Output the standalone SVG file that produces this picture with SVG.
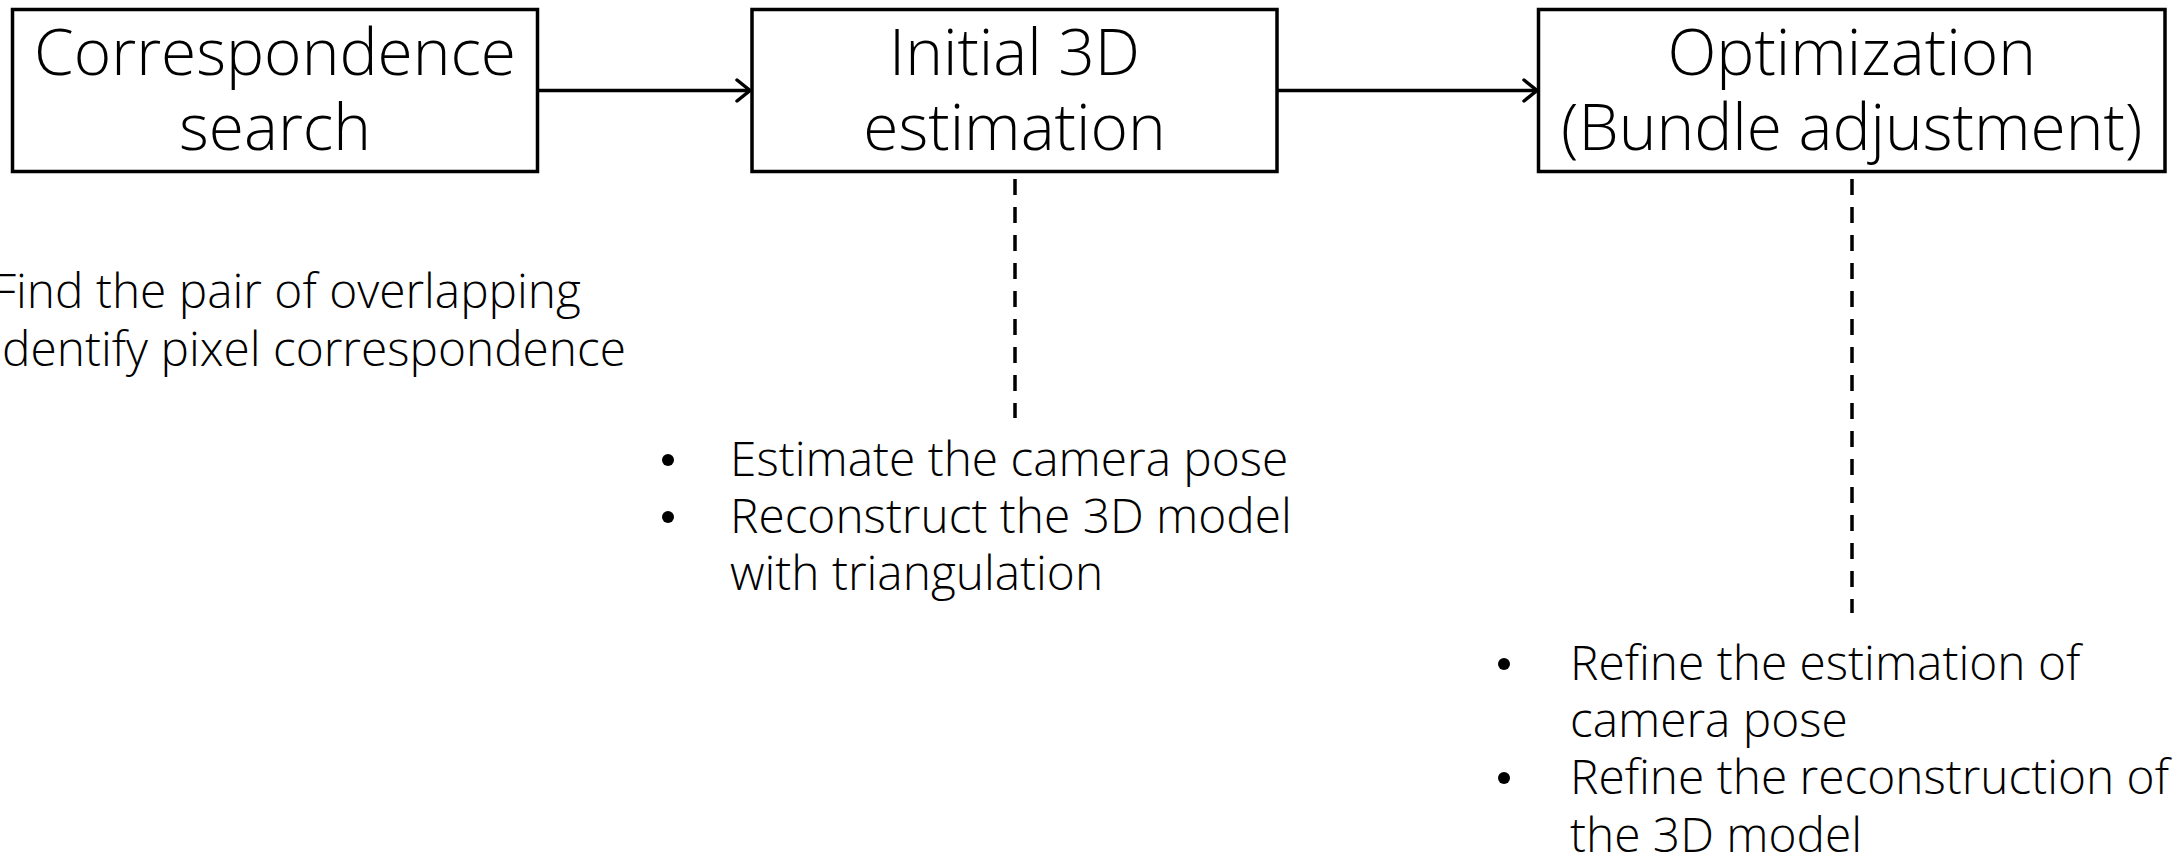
<svg xmlns="http://www.w3.org/2000/svg" width="2183" height="855" viewBox="0 0 2183 855">
<style>
  .box { fill: #ffffff; stroke: #000000; stroke-width: 3.5; }
  .title { font-family: "Open Sans", "Liberation Sans", sans-serif; font-weight: 300; font-size: 64px; fill: #000000; text-anchor: middle; }
  .body { font-family: "Open Sans", "Liberation Sans", sans-serif; font-weight: 300; font-size: 47.8px; fill: #000000; }
  .bullet { fill: #000000; }
  .flow { fill: none; stroke: #000000; stroke-width: 3.5; }
  .dash { fill: none; stroke: #000000; stroke-width: 3.5; stroke-dasharray: 16 12; }
</style>
<defs>
  <marker id="open-arrow" markerUnits="userSpaceOnUse" markerWidth="30" markerHeight="30" refX="15" refY="12" orient="auto" viewBox="0 0 30 24">
    <path d="M2,1.5 L15,12 L2,22.5" fill="none" stroke="#000000" stroke-width="3.5" stroke-linecap="round" stroke-linejoin="miter"/>
  </marker>
</defs>
<rect x="0" y="0" width="2183" height="855" fill="#ffffff"/>

<g id="connectors">
  <line class="flow" x1="537.5" y1="90.5" x2="750" y2="90.5" marker-end="url(#open-arrow)"/>
  <line class="flow" x1="1277" y1="90.5" x2="1537" y2="90.5" marker-end="url(#open-arrow)"/>
  <line class="dash" x1="1015" y1="179" x2="1015" y2="418"/>
  <line class="dash" x1="1852" y1="179" x2="1852" y2="613"/>
</g>

<g id="node-correspondence">
  <rect class="box" x="12.5" y="9.5" width="525" height="162"/>
  <text class="title" x="275" y="75">Correspondence</text>
  <text class="title" x="275" y="150">search</text>
</g>

<g id="node-initial">
  <rect class="box" x="752" y="9.5" width="525" height="162"/>
  <text class="title" x="1014.5" y="75">Initial 3D</text>
  <text class="title" x="1014.5" y="150">estimation</text>
</g>

<g id="node-optimization">
  <rect class="box" x="1538.5" y="9.5" width="626.5" height="162"/>
  <text class="title" x="1851.7" y="75">Optimization</text>
  <text class="title" x="1851.7" y="150">(Bundle adjustment)</text>
</g>

<g id="note-correspondence">
  <text class="body" x="-8" y="308">Find the pair of overlapping</text>
  <text class="body" x="-10" y="366">Identify pixel correspondence</text>
</g>

<g id="note-initial">
  <circle class="bullet" cx="668" cy="460" r="6"/>
  <text class="body" x="730" y="476">Estimate the camera pose</text>
  <circle class="bullet" cx="668" cy="517" r="6"/>
  <text class="body" x="730" y="533">Reconstruct the 3D model</text>
  <text class="body" x="730" y="590">with triangulation</text>
</g>

<g id="note-optimization">
  <circle class="bullet" cx="1504" cy="664" r="6"/>
  <text class="body" x="1570" y="680">Refine the estimation of</text>
  <text class="body" x="1570" y="737">camera pose</text>
  <circle class="bullet" cx="1504" cy="778" r="6"/>
  <text class="body" x="1570" y="794">Refine the reconstruction of</text>
  <text class="body" x="1570" y="852">the 3D model</text>
</g>
</svg>
